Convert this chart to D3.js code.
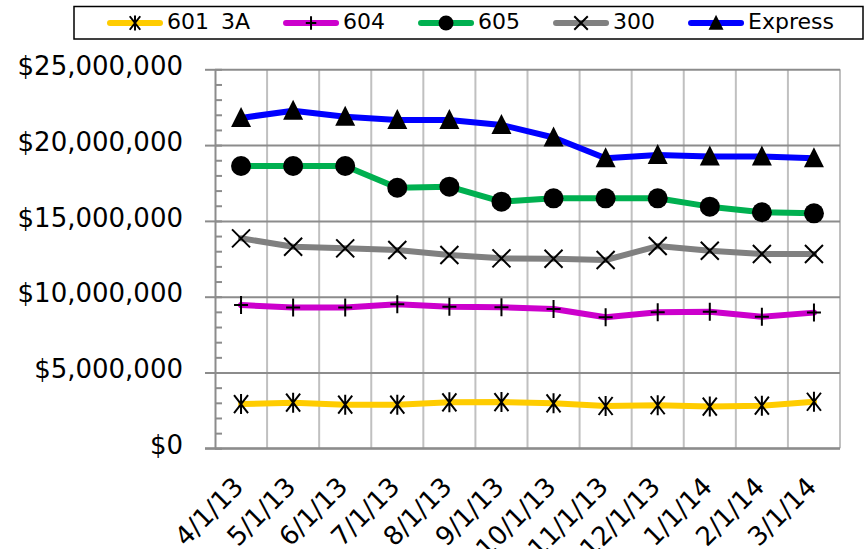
<!DOCTYPE html>
<html>
<head>
<meta charset="utf-8">
<script src="https://cdn.jsdelivr.net/npm/d3@7"></script>
<style>
  body { margin: 0; background: #fff; }
  svg { display: block; font-family: "DejaVu Sans", sans-serif; }
</style>
</head>
<body>
<svg id="chart" width="867" height="549"></svg>
<script>
// categories
const dates = ["4/1/13", "5/1/13", "6/1/13", "7/1/13", "8/1/13", "9/1/13",
  "10/1/13", "11/1/13", "12/1/13", "1/1/14", "2/1/14", "3/1/14"];

// series values (dollars)
const s601 = [2920000, 3010000, 2880000, 2880000, 3030000, 3050000, 2970000, 2790000, 2840000, 2750000, 2810000, 3070000];
const s604 = [9450000, 9280000, 9280000, 9500000, 9340000, 9300000, 9190000, 8640000, 8970000, 9010000, 8680000, 8950000];
const s605 = [18620000, 18620000, 18620000, 17190000, 17260000, 16270000, 16490000, 16490000, 16490000, 15940000, 15570000, 15500000];
const s300 = [13850000, 13300000, 13190000, 13080000, 12750000, 12530000, 12500000, 12420000, 13340000, 13030000, 12820000, 12820000];
const sExpress = [21790000, 22270000, 21870000, 21660000, 21660000, 21330000, 20500000, 19130000, 19350000, 19250000, 19250000, 19130000];

const yTicks = [0, 5000000, 10000000, 15000000, 20000000, 25000000];

const series = [
  {name: "601 3A", values: s601, color: "#ffcc00", marker: "star"},
  {name: "604", values: s604, color: "#cc00cc", marker: "plus"},
  {name: "605", values: s605, color: "#00b050", marker: "circle"},
  {name: "300", values: s300, color: "#808080", marker: "x"},
  {name: "Express", values: sExpress, color: "#0000ff", marker: "triangle"}
];

const svg = d3.select("#chart");
const pLeft = 215, pRight = 840, pTop = 69.3, pBottom = 448.3;

const x = d3.scaleBand().domain(dates).range([pLeft, pRight]).padding(0);
const y = d3.scaleLinear().domain([0, 25000000]).range([pBottom, pTop]);

// marker shapes, s = scale
function markerPath(type, s) {
  const p = d3.path();
  if (type === "star") {
    p.moveTo(-7*s, -9*s); p.lineTo(7*s, 9*s);
    p.moveTo(7*s, -9*s); p.lineTo(-7*s, 9*s);
    p.moveTo(0, -10*s); p.lineTo(0, 10*s);
  } else if (type === "plus") {
    p.moveTo(-7*s, 0); p.lineTo(7*s, 0);
    p.moveTo(0, -9*s); p.lineTo(0, 9*s);
  } else if (type === "x") {
    p.moveTo(-9*s, -9*s); p.lineTo(9*s, 9*s);
    p.moveTo(9*s, -9*s); p.lineTo(-9*s, 9*s);
  } else if (type === "circle") {
    p.arc(0, 0, 10*s, 0, 2*Math.PI);
  } else if (type === "triangle") {
    p.moveTo(0, -11*s); p.lineTo(10*s, 9*s); p.lineTo(-10*s, 9*s); p.closePath();
  }
  return p.toString();
}
function drawMarker(g, type, s) {
  const filled = type === "circle" || type === "triangle";
  g.append("path")
    .attr("d", markerPath(type, s))
    .attr("fill", filled ? "#000" : "none")
    .attr("stroke", "#000")
    .attr("stroke-width", filled ? 0 : 2);
}

// vertical gridlines at category boundaries
svg.append("g").selectAll("line")
  .data(dates.slice(1).map(d => x(d)).concat([pRight]))
  .join("line")
  .attr("x1", d => d).attr("x2", d => d)
  .attr("y1", pTop).attr("y2", pBottom)
  .attr("stroke", "#c0c0c0").attr("stroke-width", 2);

// horizontal major gridlines
svg.append("g")
  .attr("transform", `translate(${pLeft},0)`)
  .call(d3.axisLeft(y).tickValues(yTicks).tickSize(-(pRight - pLeft)).tickFormat(""))
  .call(g => g.select(".domain").remove())
  .selectAll("line").attr("stroke", "#8c8c8c").attr("stroke-width", 2);

// minor ticks inside
svg.append("g")
  .attr("transform", `translate(${pLeft},0)`)
  .call(d3.axisLeft(y).tickValues(d3.range(0, 25000001, 1000000)).tickSize(-7).tickFormat(""))
  .call(g => g.select(".domain").remove())
  .selectAll("line").attr("stroke", "#8c8c8c").attr("stroke-width", 2);

// y axis with major ticks and labels
const yAxis = svg.append("g")
  .attr("transform", `translate(${pLeft},0)`)
  .call(d3.axisLeft(y).tickValues(yTicks).tickSize(10).tickSizeOuter(0).tickPadding(22)
    .tickFormat(d3.format("$,")));
yAxis.select(".domain").attr("stroke", "#8c8c8c").attr("stroke-width", 2);
yAxis.selectAll(".tick line").attr("stroke", "#8c8c8c").attr("stroke-width", 2);
yAxis.selectAll("text")
  .attr("font-size", 26).attr("fill", "#000")
  .attr("font-family", "DejaVu Sans").attr("dy", "0.2em");

// x axis
const xAxis = svg.append("g")
  .attr("transform", `translate(0,${pBottom})`)
  .call(d3.axisBottom(x).tickSize(0).tickSizeOuter(0));
xAxis.select(".domain").attr("stroke", "#8c8c8c").attr("stroke-width", 2)
  .attr("d", `M${pLeft - 10},0H${pRight}`);
xAxis.selectAll("text")
  .attr("font-size", 26).attr("fill", "#000")
  .attr("font-family", "DejaVu Sans")
  .attr("text-anchor", "end")
  .attr("y", 0).attr("dy", 0)
  .attr("transform", "translate(4,40) rotate(-45)");

// series lines and markers
const line = d3.line().x((d, i) => x(dates[i]) + x.bandwidth() / 2).y(d => y(d));
series.forEach(s => {
  svg.append("path")
    .datum(s.values)
    .attr("d", line)
    .attr("fill", "none")
    .attr("stroke", s.color)
    .attr("stroke-width", 6)
    .attr("stroke-linejoin", "round")
    .attr("stroke-linecap", "round");
  svg.append("g").selectAll("g")
    .data(s.values)
    .join("g")
    .attr("transform", (d, i) => `translate(${x(dates[i]) + x.bandwidth() / 2},${y(d)})`)
    .each(function() { drawMarker(d3.select(this), s.marker, 1); });
});

// legend
const leg = svg.append("g");
leg.append("rect")
  .attr("x", 74).attr("y", 6.5).attr("width", 789).attr("height", 32.5)
  .attr("fill", "#fff").attr("stroke", "#000").attr("stroke-width", 1.5);
let lx = 107;
series.forEach(s => {
  const it = leg.append("g");
  it.append("line")
    .attr("x1", lx + 3).attr("x2", lx + 53).attr("y1", 23).attr("y2", 23)
    .attr("stroke", s.color).attr("stroke-width", 6).attr("stroke-linecap", "round");
  const m = it.append("g").attr("transform", `translate(${lx + 28},23)`);
  drawMarker(m, s.marker, 0.75);
  const t = it.append("text")
    .attr("x", lx + 60).attr("y", 29)
    .attr("font-size", 22).attr("fill", "#000")
    .attr("word-spacing", 5)
    .text(s.name);
  lx += 60 + t.node().getComputedTextLength() + 33;
});
</script>
</body>
</html>
